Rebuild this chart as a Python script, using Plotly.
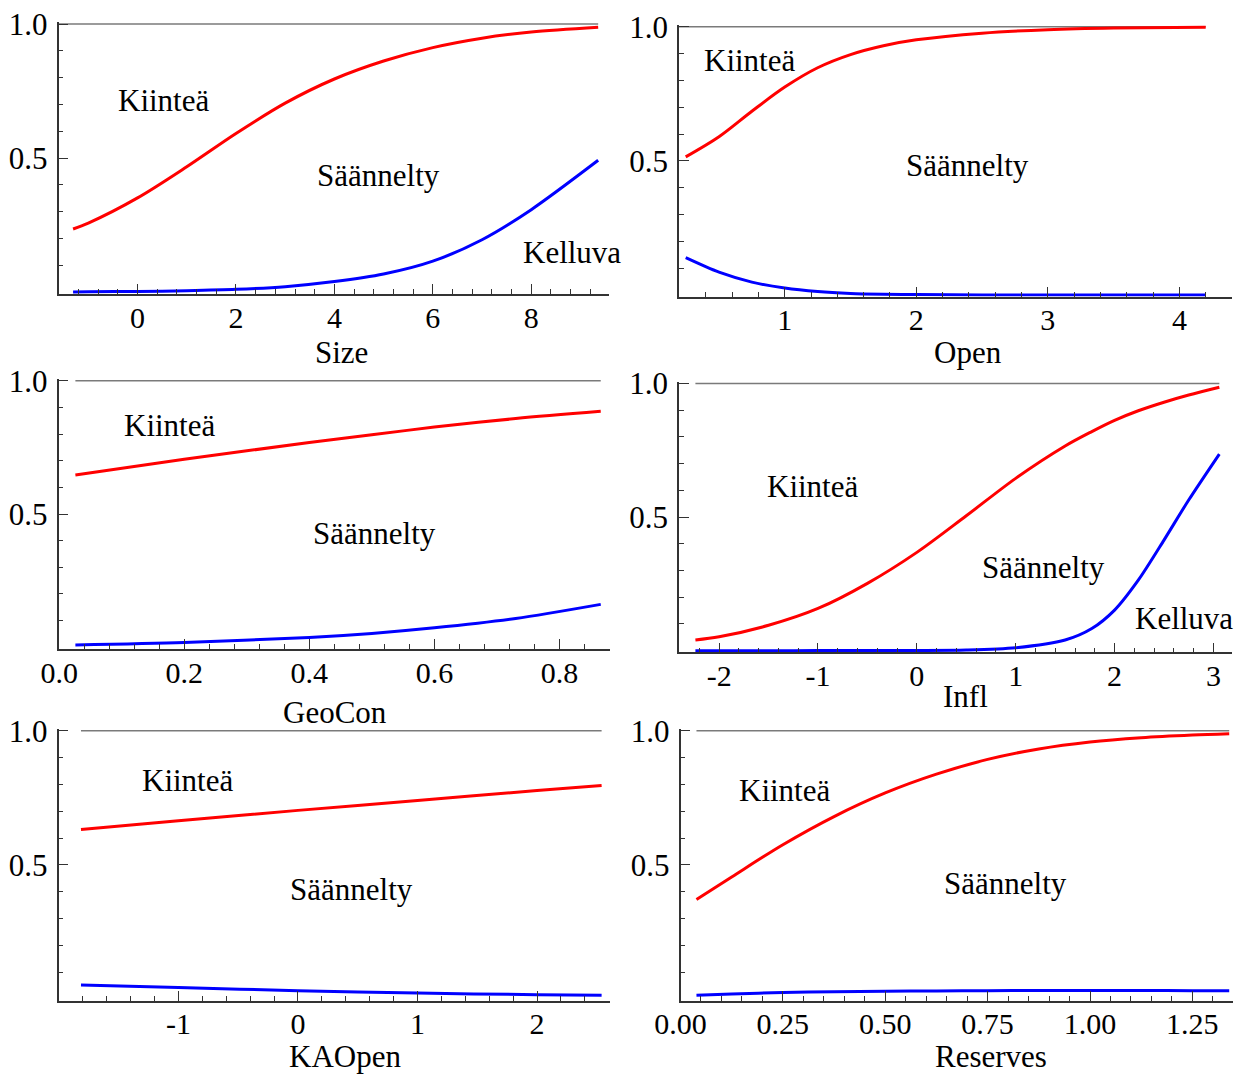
import plotly.graph_objects as go

# ---------------- data ----------------
size_x = [-1.31, -1.0, 0.0, 1.0, 2.0, 3.0, 4.0, 5.0, 6.0, 7.0, 8.0, 9.36]
size_red = [0.236, 0.258, 0.352, 0.468, 0.592, 0.705, 0.795, 0.862, 0.912, 0.947, 0.970, 0.988]
size_blue = [0.001, 0.002, 0.003, 0.006, 0.011, 0.021, 0.040, 0.068, 0.116, 0.196, 0.308, 0.492]

open_x = [0.247, 0.5, 0.75, 1.0, 1.25, 1.5, 1.75, 2.0, 2.5, 3.0, 3.5, 4.2]
open_red = [0.515, 0.590, 0.685, 0.775, 0.847, 0.896, 0.929, 0.951, 0.976, 0.989, 0.995, 0.998]
open_blue = [0.139, 0.085, 0.048, 0.026, 0.013, 0.006, 0.003, 0.0015, 0.0004, 0.0001, 0.0, 0.0]

geocon_x = [0.026, 0.2, 0.4, 0.5, 0.6, 0.73, 0.866]
geocon_red = [0.646, 0.705, 0.768, 0.797, 0.826, 0.858, 0.885]
geocon_blue = [0.009, 0.018, 0.037, 0.052, 0.073, 0.108, 0.161]

infl_x = [-2.24, -2.0, -1.5, -1.0, -0.5, 0.0, 0.5, 1.0, 1.5, 1.77, 2.0, 2.24, 2.5, 2.75, 3.06]
infl_red = [0.040, 0.052, 0.095, 0.158, 0.252, 0.368, 0.505, 0.645, 0.766, 0.820, 0.862, 0.898, 0.930, 0.957, 0.986]
infl_blue = [0.0, 0.0, 0.0, 0.0005, 0.001, 0.001, 0.0025, 0.011, 0.040, 0.083, 0.152, 0.264, 0.414, 0.564, 0.736]

kaopen_x = [-1.815, -1.0, 0.0, 1.0, 2.0, 2.54]
kaopen_red = [0.632, 0.664, 0.703, 0.740, 0.777, 0.796]
kaopen_blue = [0.052, 0.043, 0.031, 0.022, 0.016, 0.0137]

reserves_x = [0.039, 0.125, 0.25, 0.375, 0.5, 0.625, 0.75, 0.875, 1.0, 1.125, 1.25, 1.34]
reserves_red = [0.371, 0.455, 0.575, 0.680, 0.768, 0.838, 0.893, 0.932, 0.958, 0.974, 0.984, 0.989]
reserves_blue = [0.0137, 0.019, 0.024, 0.027, 0.029, 0.030, 0.031, 0.032, 0.032, 0.032, 0.031, 0.031]

panels = [
    dict(name="Size", x=size_x, red=size_red, blue=size_blue,
         ticks=[0, 2, 4, 6, 8], ticktext=["0", "2", "4", "6", "8"],
         labels=[("Kiinteä", 0.53, 0.716), ("Säännelty", 4.9, 0.434), ("Kelluva", 8.82, 0.150)]),
    dict(name="Open", x=open_x, red=open_red, blue=open_blue,
         ticks=[1, 2, 3, 4], ticktext=["1", "2", "3", "4"],
         labels=[("Kiinteä", 0.734, 0.874), ("Säännelty", 2.386, 0.482)]),
    dict(name="GeoCon", x=geocon_x, red=geocon_red, blue=geocon_blue,
         ticks=[0, 0.2, 0.4, 0.6, 0.8], ticktext=["0.0", "0.2", "0.4", "0.6", "0.8"],
         labels=[("Kiinteä", 0.177, 0.832), ("Säännelty", 0.504, 0.427)]),
    dict(name="Infl", x=infl_x, red=infl_red, blue=infl_blue,
         ticks=[-2, -1, 0, 1, 2, 3], ticktext=["-2", "-1", "0", "1", "2", "3"],
         labels=[("Kiinteä", -1.052, 0.614), ("Säännelty", 1.277, 0.312), ("Kelluva", 2.705, 0.120)]),
    dict(name="KAOpen", x=kaopen_x, red=kaopen_red, blue=kaopen_blue,
         ticks=[-1, 0, 1, 2], ticktext=["-1", "0", "1", "2"],
         labels=[("Kiinteä", -0.921, 0.814), ("Säännelty", 0.451, 0.410)]),
    dict(name="Reserves", x=reserves_x, red=reserves_red, blue=reserves_blue,
         ticks=[0, 0.25, 0.5, 0.75, 1.0, 1.25], ticktext=["0.00", "0.25", "0.50", "0.75", "1.00", "1.25"],
         labels=[("Kiinteä", 0.2546, 0.777), ("Säännelty", 0.793, 0.432)]),
]

# ---------------- layout geometry (pixels) ----------------
W, H = 1238, 1074
# (left px, right px, top px of y=1, bottom px of y=0, x range, minor step, top-line start)
geom = [
    (58.5, 609.0, 24.0, 292.3, (-1.606, 9.58), 0.4, -1.606),
    (679.0, 1232.0, 26.7, 295.0, (0.196, 4.40), 0.2, 0.196),
    (58.5, 609.5, 380.7, 647.3, (-0.001, 0.880), 0.04, None),
    (679.0, 1232.0, 383.5, 650.7, (-2.406, 3.188), 0.2, None),
    (58.5, 609.5, 730.7, 999.0, (-2.003, 2.606), 0.2, None),
    (680.5, 1232.5, 730.7, 999.0, (0.0, 1.348), 0.05, None),
]
title_pos = [(341, 352), (968, 352), (335, 712), (965, 696), (345, 1056), (991, 1056)]

FONT = "Liberation Serif"
E = 0.006  # small y-range padding so lines at 0 and 1 are not clipped

fig = go.Figure()
layout = dict(
    template="none",
    width=W, height=H, autosize=False, margin=dict(l=0, r=0, t=0, b=0, pad=0),
    paper_bgcolor="white", plot_bgcolor="white",
    showlegend=False, font=dict(family=FONT, color="black"),
)
annotations = []

for i, (p, g) in enumerate(zip(panels, geom)):
    k = "" if i == 0 else str(i + 1)
    L, R, T, B, xr, mstep, tstart = g
    u = B - T
    ytop = T - E * u
    ybot = B + E * u
    xa = dict(
        domain=[L / W, R / W], range=list(xr), anchor="y" + k, automargin=False,
        showline=True, linecolor="#333", linewidth=1.5, mirror=False,
        showgrid=False, zeroline=False,
        tickmode="array", tickvals=p["ticks"], ticktext=p["ticktext"],
        ticks="inside", ticklen=10, tickwidth=1.2, tickcolor="#333",
        tickfont=dict(family=FONT, size=30, color="black"),
        ticklabelstandoff=-4,
        minor=dict(tickmode="linear", tick0=0, dtick=mstep, ticks="inside",
                   ticklen=5, tickwidth=1, tickcolor="#333", showgrid=False),
    )
    ya = dict(
        domain=[1 - ybot / H, 1 - ytop / H], range=[-E, 1 + E], anchor="x" + k, automargin=False,
        showline=True, linecolor="#333", linewidth=1.5,
        showgrid=False, zeroline=False,
        tickmode="array", tickvals=[0.5, 1.0], ticktext=["0.5", "1.0"],
        ticks="inside", ticklen=10, tickwidth=1.2, tickcolor="#333",
        tickfont=dict(family=FONT, size=31, color="black"),
        ticklabelstandoff=3,
        minor=dict(tickmode="array", tickvals=[0.1, 0.2, 0.3, 0.4, 0.6, 0.7, 0.8, 0.9],
                   ticks="inside", ticklen=5, tickwidth=1, tickcolor="#333", showgrid=False),
    )
    layout["xaxis" + k] = xa
    layout["yaxis" + k] = ya

    x0 = tstart if tstart is not None else p["x"][0]
    fig.add_trace(go.Scatter(x=[x0, p["x"][-1]], y=[1, 1], mode="lines",
                             line=dict(color="#7a7a7a", width=1.6),
                             xaxis="x" + k, yaxis="y" + k, hoverinfo="skip"))
    fig.add_trace(go.Scatter(x=p["x"], y=p["red"], mode="lines",
                             line=dict(color="#ff0000", width=3, shape="spline", smoothing=0.9),
                             xaxis="x" + k, yaxis="y" + k))
    fig.add_trace(go.Scatter(x=p["x"], y=p["blue"], mode="lines",
                             line=dict(color="#0000ff", width=3, shape="spline", smoothing=0.8),
                             xaxis="x" + k, yaxis="y" + k))

    for txt, lx, ly in p["labels"]:
        annotations.append(dict(text=txt, x=lx, y=ly, xref="x" + k, yref="y" + k,
                                showarrow=False, xanchor="center", yanchor="middle",
                                font=dict(family=FONT, size=31, color="black")))
    tx, ty = title_pos[i]
    annotations.append(dict(text=p["name"], x=tx / W, y=1 - ty / H, xref="paper", yref="paper",
                            showarrow=False, xanchor="center", yanchor="middle",
                            font=dict(family=FONT, size=31, color="black")))

layout["annotations"] = annotations
fig.update_layout(**layout)
fig.write_html("out.html", config={"displayModeBar": False},
               post_script="document.body.style.margin='0px';document.body.style.overflow='hidden';")
